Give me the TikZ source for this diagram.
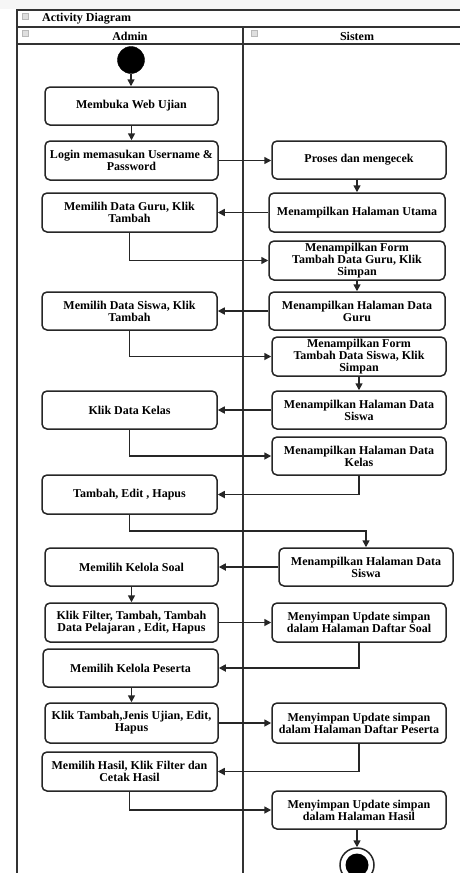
\documentclass[tikz,border=0pt]{standalone}
\usepackage{fontspec}
\setmainfont{Liberation Serif}
\usetikzlibrary{arrows.meta}
\begin{document}
\begin{tikzpicture}[x=1pt,y=-1pt,
  act/.style={draw=black!85, line width=1.5pt, rounded corners=5pt, align=center, inner sep=0pt,
    font=\fontsize{12}{12}\selectfont\bfseries, fill=white},
  flow/.style={draw=black!85, line width=1.6pt, -{Triangle[length=7pt,width=7pt]}},
  frame/.style={draw=black!80, line width=2pt},
  icon/.style={draw=gray!55, fill=gray!25, line width=0.6pt},
  hdr/.style={font=\fontsize{12}{12.5}\selectfont\bfseries, inner sep=0pt}
]
\useasboundingbox (0,0) rectangle (460,873);
\begin{scope}
\clip (0,0) rectangle (460,873);
\fill[gray!7] (0,0) rectangle (460,9);
% frame
\draw[frame] (17,890) -- (17,10) -- (470,10);
\draw[frame] (17,27) -- (470,27);
\draw[frame] (17,44) -- (470,44);
\draw[frame] (243,27) -- (243,890);
% icons
\draw[icon] (22,13) rectangle (28,19);
\draw[icon] (22,30) rectangle (28,36);
\draw[icon] (251,30) rectangle (257,36);
% headers
\node[hdr, anchor=west] (title) at (42,19) {Activity Diagram};
\node[hdr] (admin) at (130,36) {Admin};
\node[hdr] (sistem) at (357,36) {Sistem};

% start / end
\node[circle, fill=black, draw=black, minimum size=27pt, inner sep=0pt] (start) at (131,60) {};
\node[circle, draw=black!85, line width=1.5pt, fill=white, minimum size=34pt, inner sep=0pt] (end) at (357,865) {};
\node[circle, fill=black, minimum size=23pt, inner sep=0pt] (endin) at (357,865) {};

% activities
\node[act, minimum width=173pt, minimum height=38pt] (b1) at (131.5,106) {Membuka Web Ujian};
\node[act, minimum width=173pt, minimum height=39pt] (login) at (131.5,160.5) {Login memasukan Username \&\\Password};
\node[act, minimum width=174pt, minimum height=38pt] (proses) at (359,160) {Proses dan mengecek};
\node[act, minimum width=175pt, minimum height=39pt] (guru) at (129.5,212.5) {Memilih Data Guru, Klik\\Tambah};
\node[act, minimum width=176pt, minimum height=39pt] (utama) at (357,212.5) {Menampilkan Halaman Utama};
\node[act, minimum width=176pt, minimum height=39pt] (formguru) at (357,260.5) {Menampilkan Form\\Tambah Data Guru, Klik\\Simpan};
\node[act, minimum width=176pt, minimum height=38pt] (dataguru) at (357,311) {Menampilkan Halaman Data\\Guru};
\node[act, minimum width=175pt, minimum height=38pt] (siswa) at (129.5,311) {Memilih Data Siswa, Klik\\Tambah};
\node[act, minimum width=174pt, minimum height=39pt] (formsiswa) at (359,356.5) {Menampilkan Form\\Tambah Data Siswa, Klik\\Simpan};
\node[act, minimum width=174pt, minimum height=38pt] (datasiswa) at (359,410) {Menampilkan Halaman Data\\Siswa};
\node[act, minimum width=175pt, minimum height=38pt] (kelas) at (129.5,410) {Klik Data Kelas};
\node[act, minimum width=174pt, minimum height=38pt] (datakelas) at (359,456) {Menampilkan Halaman Data\\Kelas};
\node[act, minimum width=175pt, minimum height=39pt] (tambah) at (129.5,494.5) {Tambah, Edit , Hapus};
\node[act, minimum width=174pt, minimum height=38pt] (datasiswab) at (366,567) {Menampilkan Halaman Data\\Siswa};
\node[act, minimum width=173pt, minimum height=38pt] (kelolasoal) at (131.5,567) {Memilih Kelola Soal};
\node[act, minimum width=173pt, minimum height=39pt] (filter) at (131.5,622.5) {Klik Filter, Tambah, Tambah\\Data Pelajaran , Edit, Hapus};
\node[act, minimum width=174pt, minimum height=39pt] (daftarsoal) at (359,622.5) {Menyimpan Update simpan\\dalam Halaman Daftar Soal};
\node[act, minimum width=175pt, minimum height=38pt] (kelolapeserta) at (130.5,668) {Memilih Kelola Peserta};
\node[act, minimum width=173pt, minimum height=40pt] (kliktambah) at (131.5,723) {Klik Tambah,Jenis Ujian, Edit,\\Hapus};
\node[act, minimum width=174pt, minimum height=40pt] (daftarpeserta) at (359,723) {Menyimpan Update simpan\\dalam Halaman Daftar Peserta};
\node[act, minimum width=175pt, minimum height=39pt] (hasil) at (129.5,771.5) {Memilih Hasil, Klik Filter dan\\Cetak Hasil};
\node[act, minimum width=174pt, minimum height=38pt] (halhasil) at (359,810) {Menyimpan Update simpan\\dalam Halaman Hasil};

% connectors
\draw[flow] (start.south) -- (start.south |- b1.north);
\draw[flow] (b1.south) -- (b1.south |- login.north);
\draw[flow] (login.east) -- (proses.west |- login.east);
\draw[flow] (utama.north -| 357,0) ++(0,-13.5) -- (utama.north);
\draw[flow] (utama.west) -- (guru.east |- utama.west);
\draw[flow] (guru.south) |- (formguru.west);
\draw[flow] (formguru.south) -- (dataguru.north);
\draw[flow] (dataguru.west) -- (siswa.east |- dataguru.west);
\draw[flow] (siswa.south) |- (formsiswa.west);
\draw[flow] (formsiswa.south) -- (datasiswa.north);
\draw[flow] (datasiswa.west) -- (kelas.east |- datasiswa.west);
\draw[flow] (kelas.south) |- (datakelas.west);
\draw[flow] (datakelas.south) |- (tambah.east);
\draw[flow] (tambah.south) -- ++(0,16) -| (datasiswab.north);
\draw[flow] (datasiswab.west) -- (kelolasoal.east |- datasiswab.west);
\draw[flow] (kelolasoal.south) -- (filter.north);
\draw[flow] (filter.east) -- (daftarsoal.west |- filter.east);
\draw[flow] (daftarsoal.south) |- (kelolapeserta.east);
\draw[flow] (kelolapeserta.south -| kliktambah.north) -- (kliktambah.north);
\draw[flow] (kliktambah.east) -- (daftarpeserta.west |- kliktambah.east);
\draw[flow] (daftarpeserta.south) |- (hasil.east);
\draw[flow] (hasil.south) |- (halhasil.west);
\draw[flow] (halhasil.south -| end.north) -- (end.north);
\end{scope}
\end{tikzpicture}
\end{document}
